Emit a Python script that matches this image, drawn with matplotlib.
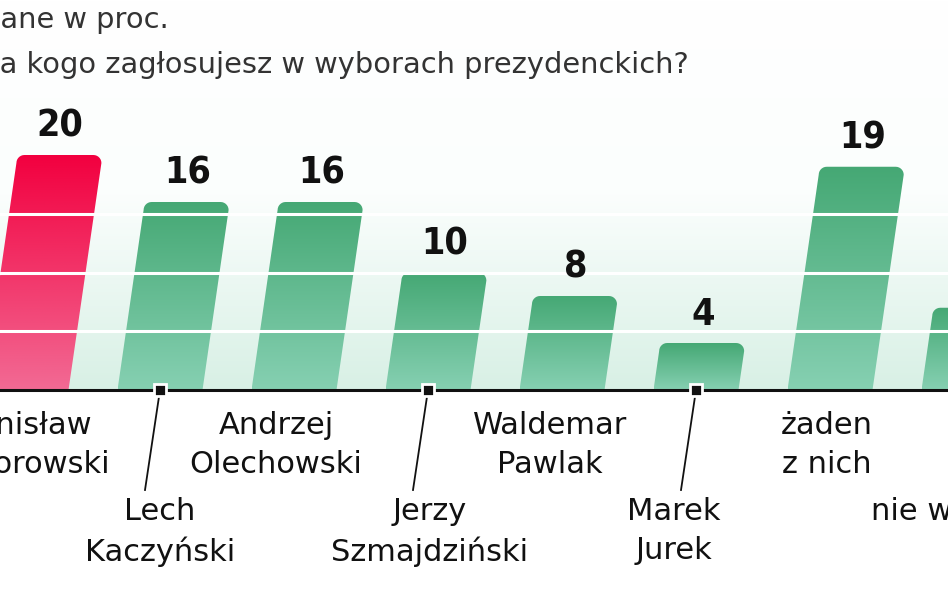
import numpy as np
import matplotlib
matplotlib.use('Agg')
from matplotlib import pyplot as plt
from matplotlib.patches import PathPatch
from matplotlib.path import Path
from matplotlib.colors import LinearSegmentedColormap
from matplotlib import font_manager

# data
names = ['Bronisław\nKomorowski', 'Lech\nKaczyński', 'Andrzej\nOlechowski', 'Jerzy\nSzmajdziński',
         'Waldemar\nPawlak', 'Marek\nJurek', 'żaden\nz nich', 'nie wiem']
values = [20, 16, 16, 10, 8, 4, 19, 7]
highlight = [True, False, False, False, False, False, False, False]
title1 = 'Dane w proc.'
title2 = 'Na kogo zagłosujesz w wyborach prezydenckich?'

# layout (pixel scale of the original)
W, H = 948, 593
PX_X = 134.0      # px per bar slot
PX_Y = 11.75      # px per percent
X0 = 26.0         # px of first bar centre
BASE = 390.0      # px of baseline from top
BAR_W = 85.0
SLANT = 0.145     # horizontal shift per px of height
RAD = 8.0

fig = plt.figure(figsize=(W / 100, H / 100), dpi=100)
ax = fig.add_axes([0, 0, 1, 1])
xlim = (-X0 / PX_X, (W - X0) / PX_X)
ylim = (-(H - BASE) / PX_Y, BASE / PX_Y)
ax.axis('off')

# background gradient
bg = LinearSegmentedColormap.from_list('bg', ['#ffffff', '#fbfefd', '#d8f0e5'])
grad = np.linspace(0, 1, 256).reshape(-1, 1)
ax.imshow(grad, cmap=bg, aspect='auto', origin='upper',
          extent=[xlim[0], xlim[1], 0, BASE / PX_Y], zorder=0)

green = LinearSegmentedColormap.from_list('g', ['#45a874', '#86d0b2'])
red = LinearSegmentedColormap.from_list('r', ['#f2003f', '#f26a94'])

# condensed bold for the numbers if there is one
num_font = font_manager.FontProperties(family='DejaVu Sans', weight='bold', stretch='condensed', size=27)


def bar_path(i, v):
    # slanted bar with rounded top corners, built in px then scaled to data
    cx = X0 + PX_X * i
    h = v * PX_Y
    shift = h * SLANT
    bl = (cx - BAR_W / 2, 0)
    br = (cx + BAR_W / 2, 0)
    tl_x = cx - BAR_W / 2 + shift
    tr_x = cx + BAR_W / 2 + shift
    pts = [bl, br]
    ex = tr_x - RAD * SLANT
    for a in np.linspace(0, np.pi / 2, 8):
        pts.append((ex - RAD + RAD * np.cos(a), h - RAD + RAD * np.sin(a)))
    ex = tl_x - RAD * SLANT
    for a in np.linspace(np.pi / 2, np.pi, 8):
        pts.append((ex + RAD + RAD * np.cos(a), h - RAD + RAD * np.sin(a)))
    pts.append(bl)
    pts = np.array(pts)
    pts[:, 0] = (pts[:, 0] - X0) / PX_X
    pts[:, 1] = pts[:, 1] / PX_Y
    return Path(pts, closed=True), cx + shift


for i, (v, hl) in enumerate(zip(values, highlight)):
    path, top_cx = bar_path(i, v)
    patch = PathPatch(path, facecolor='none', edgecolor='none', zorder=2)
    ax.add_patch(patch)
    x_min, x_max = path.vertices[:, 0].min(), path.vertices[:, 0].max()
    im = ax.imshow(grad, cmap=red if hl else green, aspect='auto', origin='upper',
                   extent=[x_min, x_max, 0, v], zorder=2)
    im.set_clip_path(patch)
    ax.text((top_cx - X0) / PX_X, v + 10 / PX_Y, str(v), ha='center', va='bottom',
            fontproperties=num_font, color='#111111', zorder=5)

ax.set_xlim(*xlim)
ax.set_ylim(*ylim)

for g in [5, 10, 15]:
    ax.axhline(g, color='white', lw=2.2, zorder=3)
ax.axhline(0, color='#111111', lw=2.2, zorder=4)

# category labels
font = ['DejaVu Sans']
upper_nudge = [-8, 0, -18, 0, -12, 0, -3, 0]
lower_nudge = [0, 0, 0, 2, 0, -22, 0, -24]
for i, name in enumerate(names):
    cx = i
    if i % 2 == 0:
        ax.text(cx + upper_nudge[i] / PX_X, -21 / PX_Y, name, ha='center', va='top',
                fontsize=22, color='#111111', family=font, linespacing=1.42, zorder=5)
    else:
        ax.plot([cx, cx - 15 / PX_X], [0, -100 / PX_Y], color='#111111', lw=1.3, zorder=5)
        ax.plot(cx, 0, marker='s', ms=9, mfc='#111111', mec='white', mew=2, zorder=6)
        ax.text(cx + lower_nudge[i] / PX_X, -107 / PX_Y, name, ha='center', va='top',
                fontsize=22, color='#111111', family=font, linespacing=1.42, zorder=5)

fig.text(-22 / W, 1 - 20 / H, title1, ha='left', va='center', fontsize=20.8,
         color='#333333', family=font)
fig.text(-22 / W, 1 - 65 / H, title2, ha='left', va='center', fontsize=20.8,
         color='#333333', family=font)

fig.savefig('out.png', dpi=100)
